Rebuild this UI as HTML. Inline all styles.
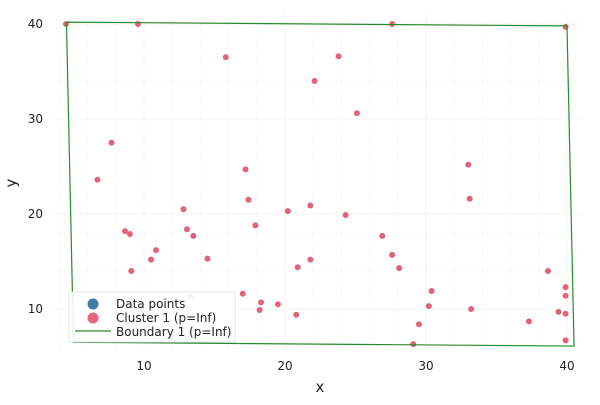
<!DOCTYPE html>
<html><head><meta charset="utf-8"><style>
body{margin:0;background:#fff;}
svg text{font-family:"DejaVu Sans","Liberation Sans",sans-serif;fill:#222;}
</style></head><body>
<svg id="c" width="600" height="400"></svg>
<script>
const xs=[4.47,9.57,27.6,39.9,15.8,23.8,22.1,25.1,7.7,6.7,17.2,33.0,17.4,33.1,12.8,20.2,21.8,24.3,17.9,8.65,9.0,13.05,13.5,26.9,27.6,10.85,10.5,14.5,21.8,20.9,28.1,9.1,38.65,39.9,30.4,17.0,39.9,18.3,19.5,30.2,18.2,33.2,20.8,39.4,39.9,37.3,29.5,39.9,29.1,13.3];
const ys=[40,40,40,39.7,36.5,36.6,34.0,30.6,27.5,23.6,24.7,25.2,21.5,21.6,20.5,20.3,20.9,19.9,18.8,18.2,17.9,18.4,17.7,17.7,15.7,16.2,15.2,15.3,15.2,14.4,14.3,14.0,14.0,12.3,11.9,11.6,11.4,10.7,10.5,10.3,9.9,10.0,9.4,9.7,9.5,8.7,8.4,6.7,6.3,11.3];
const bx=[4.5,40.0,40.5,5.0,4.5];
const by=[40.2,39.8,6.1,6.5,40.2];
const xticks=[10,20,30,40];
const yticks=[10,20,30,40];
const NS='http://www.w3.org/2000/svg';
const svg=document.getElementById('c');
const X=v=>3+v*14.1, Y=v=>404-v*9.5;
function mk(t,a,p){const e=document.createElementNS(NS,t);for(const k in a)e.setAttribute(k,a[k]);(p||svg).appendChild(e);return e;}
// grid
for(let v=4;v<=40;v+=2){const g=mk('line',{x1:X(v),x2:X(v),y1:12,y2:350,stroke:'#000','stroke-opacity':v%10==0?0.07:0.035,'stroke-width':0.6});

}
for(let v=6;v<=40;v+=2){const g=mk('line',{x1:52,x2:582,y1:Y(v),y2:Y(v),stroke:'#000','stroke-opacity':v%10==0?0.07:0.035,'stroke-width':0.6});

}
xticks.forEach(v=>{const t=mk('text',{x:X(v),y:370,'text-anchor':'middle','font-size':12});t.textContent=v;

});
yticks.forEach(v=>{const t=mk('text',{x:43,y:Y(v)+4,'text-anchor':'end','font-size':12});t.textContent=v;

});
const xl=mk('text',{x:320,y:392,'text-anchor':'middle','font-size':15});xl.textContent='x';


const yl=mk('text',{x:16,y:183,'text-anchor':'middle','font-size':15,transform:'rotate(-90 16 183)'});yl.textContent='y';


// points
xs.forEach((v,i)=>{const c=mk('circle',{cx:X(v),cy:Y(ys[i]),r:3,fill:'#e26278'});

});
// boundary
const bl=mk('polyline',{points:bx.map((v,i)=>X(v)+','+Y(by[i])).join(' '),fill:'none',stroke:'#2a8a2a','stroke-width':1.2});


// legend
const lg=mk('g',{});


mk('rect',{x:69,y:292,width:166,height:50,fill:'#fff','fill-opacity':0.9,stroke:'#dde','stroke-width':0.8},lg);
mk('circle',{cx:93,cy:304,r:5.5,fill:'#3f78ad'},lg);
mk('circle',{cx:93,cy:318,r:5.5,fill:'#e8677d'},lg);
mk('line',{x1:75,x2:111,y1:331,y2:331,stroke:'#2a8a2a','stroke-width':1.2},lg);
[['Data points',308],['Cluster 1 (p=Inf)',322],['Boundary 1 (p=Inf)',336]].forEach(([s,y])=>{const t=mk('text',{x:116,y:y,'font-size':12},lg);t.textContent=s;

});
</script>
</body></html>
